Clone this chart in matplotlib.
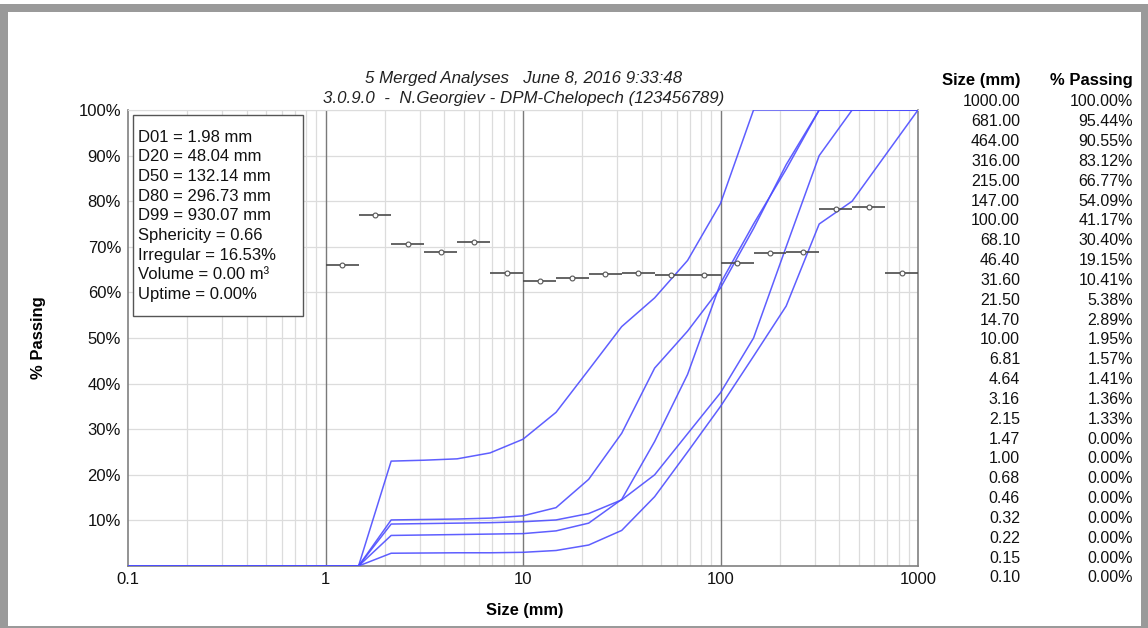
import matplotlib
matplotlib.use("Agg")
import matplotlib.pyplot as plt
from matplotlib.patches import Rectangle
from matplotlib.ticker import FixedLocator, NullFormatter

plt.rcParams['font.family'] = ['Liberation Sans', 'DejaVu Sans']

# table on the right (merged result)
table_sizes = [1000.00, 681.00, 464.00, 316.00, 215.00, 147.00, 100.00, 68.10, 46.40,
               31.60, 21.50, 14.70, 10.00, 6.81, 4.64, 3.16, 2.15, 1.47, 1.00, 0.68,
               0.46, 0.32, 0.22, 0.15, 0.10]
table_passing = [100.00, 95.44, 90.55, 83.12, 66.77, 54.09, 41.17, 30.40, 19.15, 10.41,
                 5.38, 2.89, 1.95, 1.57, 1.41, 1.36, 1.33, 0.00, 0.00, 0.00, 0.00, 0.00,
                 0.00, 0.00, 0.00]

sieve = table_sizes[::-1]   # ascending 0.10 .. 1000
zeros = [0, 0, 0, 0, 0, 0, 0, 0]   # 0.10 .. 1.47
#                 2.15  3.16  4.64  6.81  10    14.7  21.5  31.6  46.4  68.1  100   147  215  316  464  681  1000
curve_a = zeros + [23.0, 23.2, 23.5, 24.8, 27.8, 33.7, 43.0, 52.5, 58.8, 67.0, 79.5, 100, 100, 100, 100, 100, 100]
curve_b = zeros + [10.1, 10.2, 10.3, 10.5, 11.0, 12.8, 19.0, 29.1, 43.4, 51.5, 61.0, 74, 88, 100, 100, 100, 100]
curve_c = zeros + [6.7, 6.8, 6.9, 7.0, 7.1, 7.7, 9.4, 14.6, 27.3, 42.0, 62.0, 75, 87, 100, 100, 100, 100]
curve_d = zeros + [9.2, 9.3, 9.4, 9.5, 9.7, 10.1, 11.5, 14.5, 20.0, 29.0, 38.0, 50, 70, 90, 100, 100, 100]
curve_e = zeros + [2.8, 2.85, 2.9, 2.9, 3.0, 3.4, 4.6, 7.8, 15.2, 25.0, 35.0, 46, 57, 75, 80, 90, 100]
curves = [curve_a, curve_b, curve_c, curve_d, curve_e]

# retained markers, one per sieve interval 1.00 -> 1000
bar_edges = sieve[6:]
bar_values = [66.1, 77.0, 70.7, 68.9, 71.0, 64.2, 62.4, 63.1, 64.0, 64.2, 63.9, 63.8,
              66.5, 68.6, 68.9, 78.3, 78.7, 64.3]

stats = ["D01 = 1.98 mm", "D20 = 48.04 mm", "D50 = 132.14 mm", "D80 = 296.73 mm",
         "D99 = 930.07 mm", "Sphericity = 0.66", "Irregular = 16.53%",
         "Volume = 0.00 m\u00b3", "Uptime = 0.00%"]

W, H = 1148, 628
fig = plt.figure(figsize=(W / 100, H / 100), dpi=100)


def px(x, y):
    return x / W, 1 - y / H


# window frame
for (x0, y0, w, h) in [(0, 4, 8, 624), (0, 4, W, 8), (1141, 4, 7, 624), (0, 626, W, 2)]:
    fig.patches.append(Rectangle((x0 / W, 1 - (y0 + h) / H), w / W, h / H,
                                 transform=fig.transFigure, facecolor='#9a9a9a',
                                 edgecolor='none', zorder=0))

ax = fig.add_axes([128 / W, 1 - 566 / H, (918 - 128) / W, (566 - 110) / H])
ax.set_xscale('log')
ax.set_xlim(0.1, 1000)
ax.set_ylim(0, 100)

ax.xaxis.set_major_locator(FixedLocator([0.1, 1, 10, 100, 1000]))
ax.set_xticklabels(['0.1', '1', '10', '100', '1000'])
minors = [m * 10.0 ** e for e in range(-1, 3) for m in range(2, 10)]
ax.xaxis.set_minor_locator(FixedLocator(minors))
ax.xaxis.set_minor_formatter(NullFormatter())
ax.set_yticks(range(10, 101, 10))
ax.set_yticklabels([f'{v}%' for v in range(10, 101, 10)])
ax.tick_params(axis='both', which='both', length=0, labelsize=12, colors='#111111')
ax.tick_params(axis='y', pad=5)
ax.tick_params(axis='x', pad=4)

ax.grid(True, which='minor', axis='x', color='#dcdcdc', lw=0.9)
ax.grid(True, which='major', axis='y', color='#dcdcdc', lw=0.9)
for d in [1, 10, 100]:
    ax.axvline(d, color='#7a7a7a', lw=1.0, zorder=1)
ax.set_axisbelow(True)

for s in ['left', 'bottom', 'right']:
    ax.spines[s].set_color('#808080')
    ax.spines[s].set_linewidth(1.2)
ax.spines['top'].set_color('#dcdcdc')

for c in curves:
    ax.plot(sieve, c, color='#4d4dff', lw=1.1, alpha=0.9, zorder=3)

for i, v in enumerate(bar_values):
    lo, hi = bar_edges[i], bar_edges[i + 1]
    ax.hlines(v, lo, hi, color='#4a4a4a', lw=1.2, zorder=4)
    ax.plot((lo * hi) ** 0.5, v, 'o', ms=3.5, mfc='white', mec='#555555', mew=0.8, zorder=5)

# titles
fig.text(*px(524, 79), "5 Merged Analyses   June 8, 2016 9:33:48", ha='center', va='center',
         style='italic', fontsize=12.2, color='#222222')
fig.text(*px(524, 99), "3.0.9.0  -  N.Georgiev - DPM-Chelopech (123456789)", ha='center',
         va='center', style='italic', fontsize=12.2, color='#222222')

# stats box
fig.patches.append(Rectangle(px(133, 316), 170 / W, 201 / H, transform=fig.transFigure,
                             facecolor='white', edgecolor='#555555', lw=1.0, zorder=6))
for i, s in enumerate(stats):
    fig.text(*px(138, 137 + i * 19.7), s, ha='left', va='center', fontsize=12,
             color='#111111', zorder=7)

# axis labels
fig.text(*px(38, 338), "% Passing", rotation=90, ha='center', va='center',
         fontsize=12, fontweight='bold')
fig.text(*px(525, 610), "Size (mm)", ha='center', va='center', fontsize=11.8,
         fontweight='bold')

# size table
fig.text(*px(1020, 81), "Size (mm)", ha='right', va='center', fontsize=12, fontweight='bold')
fig.text(*px(1133, 81), "% Passing", ha='right', va='center', fontsize=12, fontweight='bold')
for i, (sz, p) in enumerate(zip(table_sizes, table_passing)):
    y = 102 + i * 19.83
    fig.text(*px(1020, y), f"{sz:.2f}", ha='right', va='center', fontsize=11.5, color='#111111')
    fig.text(*px(1133, y), f"{p:.2f}%", ha='right', va='center', fontsize=11.5, color='#111111')

fig.savefig('out.png', dpi=100)
